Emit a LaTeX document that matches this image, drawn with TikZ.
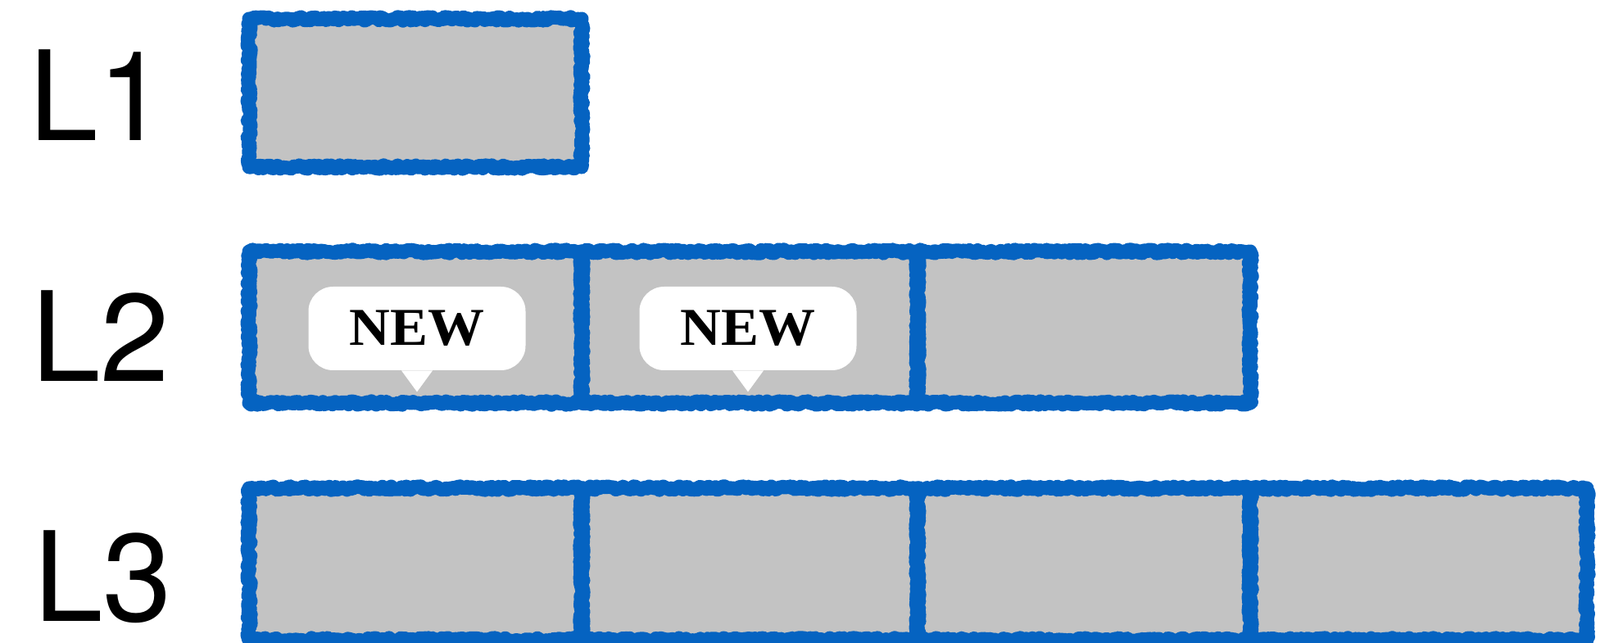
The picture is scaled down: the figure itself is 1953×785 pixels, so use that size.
\documentclass[tikz,border=0pt]{standalone}
\usepackage{fontspec}
\setmainfont{Liberation Serif}
\newfontfamily\labelfont{TeX Gyre Heros}
\usetikzlibrary{decorations.pathmorphing}
\definecolor{cellblue}{RGB}{5,99,193}
\definecolor{cellgray}{RGB}{195,195,195}
\tikzset{
  cell/.style={draw=cellblue,line width=8.5pt,line join=round,decorate,
    decoration={random steps,segment length=1.2pt,amplitude=1.1pt}},
  level/.style={anchor=base west,inner sep=0pt,font=\labelfont\fontsize{76}{76}\selectfont},
  bubble/.style={fill=white,rounded corners=15pt,minimum width=132.5pt,minimum height=51pt,
    inner sep=0pt,font=\bfseries\fontsize{32.5}{32.5}\selectfont}
}
\begin{document}
\begin{tikzpicture}[x=.5pt,y=-.5pt]
  \useasboundingbox (0,0) rectangle (1953,785);
  % row labels
  \node[level] (l1) at (35,172) {L1};
  \node[level] (l2) at (38,466) {L2};
  \node[level] (l3) at (41,758) {L3};
  % cells: grey first, then the blue frames
  \fill[cellgray] (304,23) rectangle (710,204);
  \fill[cellgray] (304,307) rectangle (1526,492);
  \fill[cellgray] (304,596) rectangle (1937,781);
  \draw[cell] (304,23) rectangle (710,204);
  \foreach \x/\xx in {304/710,710/1120,1120/1526}
    \draw[cell] (\x,307) rectangle (\xx,492);
  \foreach \x/\xx in {304/710,710/1120,1120/1526,1526/1937}
    \draw[cell] (\x,596) rectangle (\xx,781);
  % speech bubbles
  \node[bubble] (new1) at (509,401) {\scalebox{1.06}[1]{NEW}};
  \node[bubble] (new2) at (913,401) {\scalebox{1.06}[1]{NEW}};
  \foreach \b in {new1,new2}
    \fill[white] ([xshift=-9.5pt]\b.south) -- ([yshift=-13pt]\b.south) -- ([xshift=9.5pt]\b.south) -- cycle;
\end{tikzpicture}
\end{document}
